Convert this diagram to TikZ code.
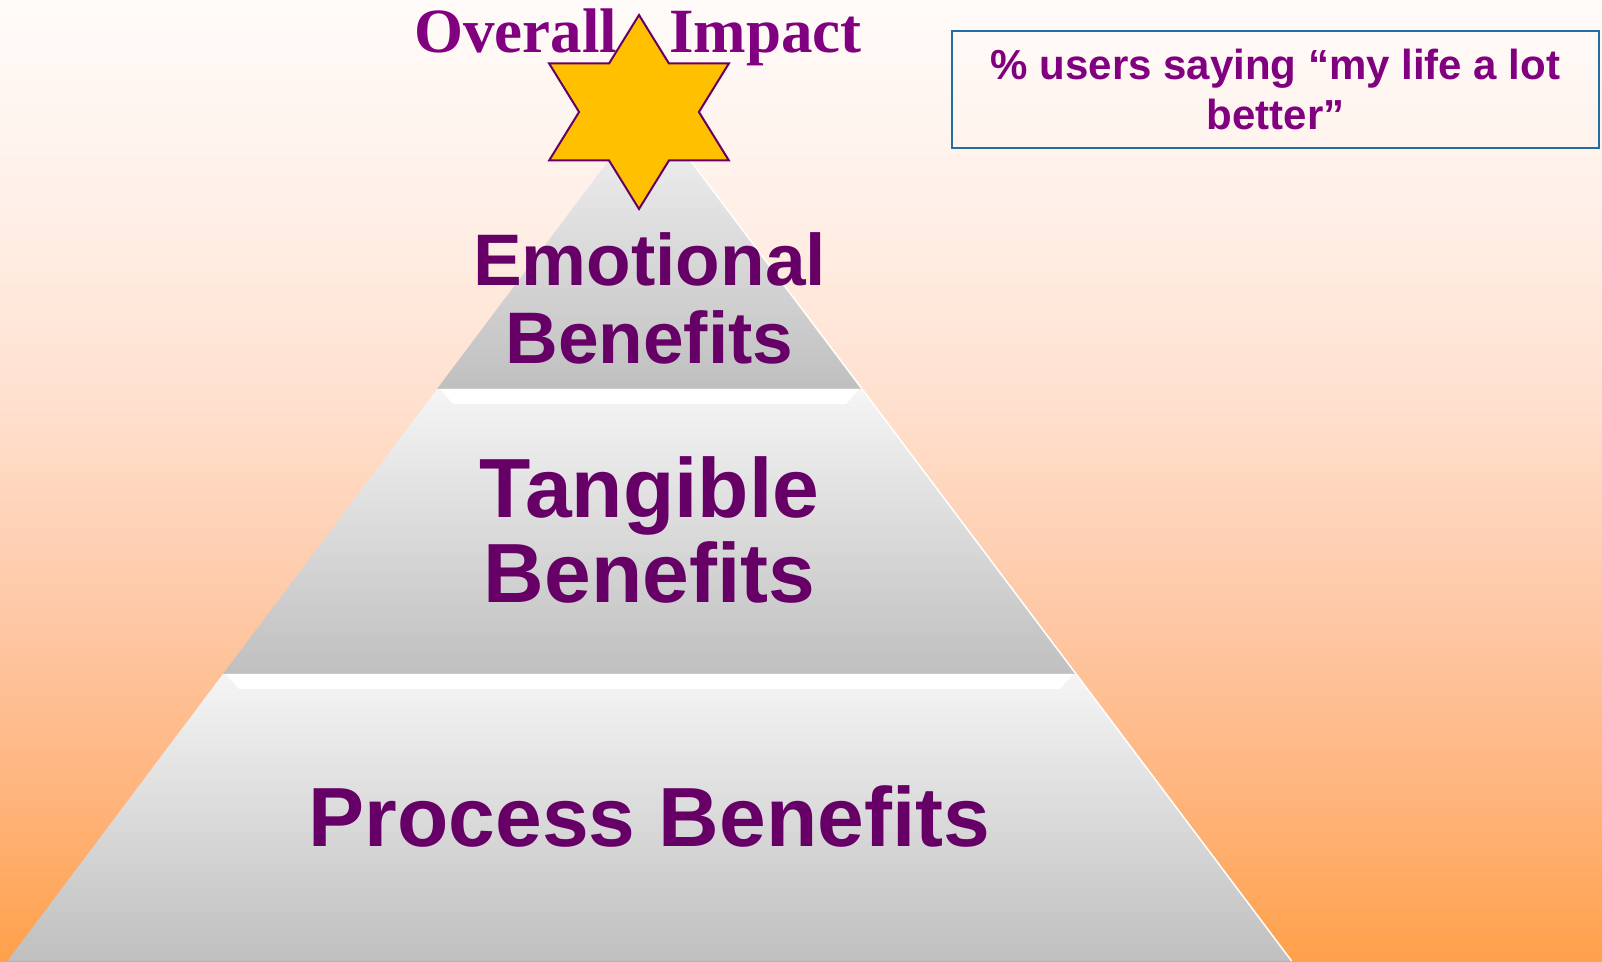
\documentclass[tikz,border=0pt]{standalone}
\usepackage{fontspec}
\setmainfont{Liberation Sans}
\newfontfamily\timesfont{Liberation Serif}
\definecolor{plum}{HTML}{660066}
\definecolor{titlepurple}{HTML}{800080}
\definecolor{starfill}{HTML}{FFC000}
\definecolor{boxblue}{HTML}{1F6FA3}
\definecolor{bgA}{HTML}{FFA04A}
\definecolor{bgB}{HTML}{FFB47C}
\definecolor{bgC}{HTML}{FECAA9}
\definecolor{bgD}{HTML}{FFE0CE}
\definecolor{bgE}{HTML}{FFF0E8}
\definecolor{bgF}{HTML}{FFFBF9}
\pgfdeclareverticalshading{sunset}{100bp}{color(0bp)=(bgA); color(25bp)=(bgA); color(33.5bp)=(bgB);
  color(44bp)=(bgC); color(54bp)=(bgD); color(64.5bp)=(bgE); color(75bp)=(bgF); color(100bp)=(bgF)}
\begin{document}
\begin{tikzpicture}[x=1pt,y=1pt,
  tier/.style={top color=black!4,bottom color=black!25,draw=none},
  tiertext/.style={anchor=base,inner sep=0pt,text=plum,font=\bfseries\fontsize{84}{84}\selectfont},
  smalltext/.style={tiertext,font=\bfseries\fontsize{73}{73}\selectfont}]
	\useasboundingbox (0,0) rectangle (1602,961);
	\shade[shading=sunset] (0,0) rectangle (1602,961);
	\foreach \t/\b in {855/572,572/287,287/0}{
		\pgfmathsetmacro\wt{0.751*(855-\t)}
		\pgfmathsetmacro\wb{0.751*(855-\b)}
		\shade[tier] (649.5-\wb,\b) -- (649.5-\wt,\t) -- (649.5+\wt,\t) -- (649.5+\wb,\b) -- cycle;
		\draw[white,line width=1.5] (649.5+\wt,\t) -- (649.5+\wb,\b);
	}
	\foreach \t in {572,287}{
		\pgfmathsetmacro\wt{0.751*(855-\t)}
		\fill[white] (649.5-\wt+3,\t) -- (649.5+\wt-3,\t) -- (649.5+\wt-16,\t-15) -- (649.5-\wt+16,\t-15) -- cycle;
	}
	\node[smalltext] (emo) at (649.5,675) {Emotional};
	\node[smalltext] (emoben) at (649.5,597) {Benefits};
	\node[tiertext] (tang) at (649.5,443) {Tangible};
	\node[tiertext] (tangben) at (649.5,358) {Benefits};
	\node[tiertext] (proc) at (649.5,115) {Process Benefits};
	\node[anchor=base west,inner sep=0pt,text=titlepurple,font=\timesfont\bfseries\fontsize{63}{63}\selectfont] (impact) at (414,908) {Overall\hspace{52pt}Impact};
	\draw[fill=starfill,draw=plum,line width=2,line join=miter,shift={(639,849)},xscale=1.07]
		(0:56) \foreach \a in {30,90,...,330}{ -- (\a:97) -- ({\a+30}:56)} -- cycle;
	\node[draw=boxblue,line width=2.5,minimum width=647,minimum height=117,inner sep=0pt,
		align=center,text=titlepurple,font=\bfseries\fontsize{42}{50}\selectfont] (note) at (1275.5,871.5)
		{\% users saying “my life a lot\\better”};
\end{tikzpicture}
\end{document}
